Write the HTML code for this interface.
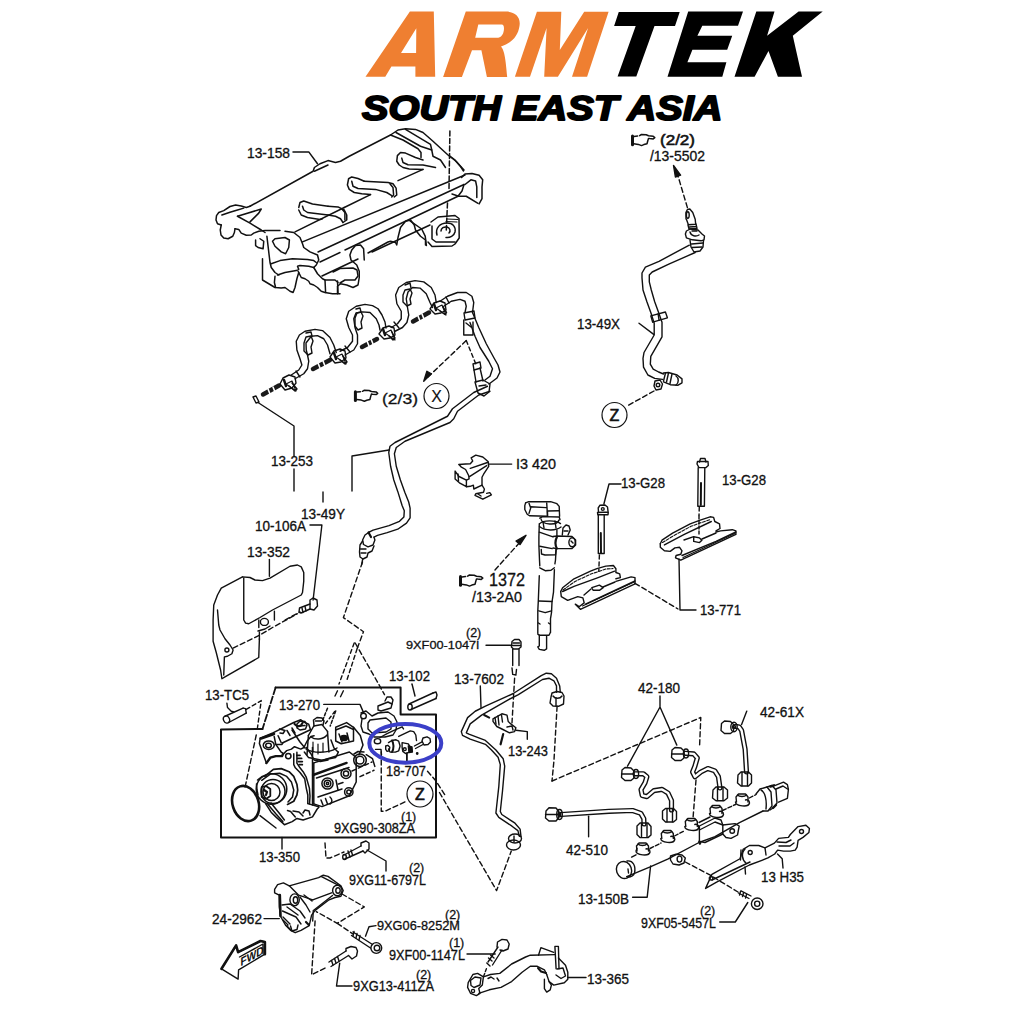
<!DOCTYPE html>
<html><head><meta charset="utf-8"><style>
html,body{margin:0;padding:0;background:#fff;}
svg{display:block;}
text{font-family:"Liberation Sans",sans-serif;}
</style></head><body>
<svg width="1024" height="1024" viewBox="0 0 1024 1024">
<rect width="1024" height="1024" fill="#fff"/>
<g id="logo">
<g fill="#EF7F31">
<path d="M365.5,76.8 L409.9,11.6 L433.8,11.6 L435.2,76.8 L415.4,76.8 L415.4,66.5 L391.4,66.5 L385.3,76.8 Z M401,52.9 L416.1,52.9 L416.3,28.2 Z" fill-rule="evenodd"/>
<path d="M443.1,76.9 L465.8,11.6 L505.6,11.6 C515,11.6 521,17 519.5,26 C518,36 512,43 501,46.5 C504,50 505.5,56 507.2,76.9 L486.9,76.9 L481.4,50.3 L472,50.3 L461.9,76.9 Z M478.3,24.5 L501.7,24.5 C504,24.5 504.5,28 503.5,32 C502.5,36 500,37.8 497,37.8 L475.2,37.8 Z" fill-rule="evenodd"/>
<path d="M514.9,76.8 L536.9,11.8 L561.3,11.8 L559.8,49.9 L584.2,11.8 L608.6,11.8 L587.1,76.8 L572,76.8 L588.1,27.9 L557.9,76.8 L544.2,76.8 L546.6,27.9 L530,76.8 Z"/>
</g>
<g fill="#000">
<path d="M618.75,12 L679.7,12 L675,26.1 L654.5,26.1 L636.3,76.5 L617.6,76.5 L635.7,26.1 L614.1,26.1 Z"/>
<path d="M688.2,11.6 L743,11.6 L738,25.75 L702.3,25.75 L697.4,35.7 L732.2,35.7 L727.2,49.8 L692.4,49.8 L687.4,62.3 L726.4,62.3 L722.3,76.7 L667.5,76.7 Z"/>
<path d="M756.3,11.6 L774.5,11.6 L767.1,35.7 L798.6,11.6 L822.7,11.6 L792.8,35.7 L802,76.7 L777.9,76.7 L768.5,51 L754.6,76.7 L734.5,76.7 Z"/>
</g>
<text x="362" y="119.5" font-family="Liberation Sans" font-weight="bold" font-style="italic" font-size="35.5" textLength="360.5" lengthAdjust="spacingAndGlyphs" fill="#000" stroke="#000" stroke-width="1.9" stroke-linejoin="round">SOUTH EAST ASIA</text>
</g>

<g id="labels" font-size="13.8" fill="#111" stroke="#111" stroke-width="0.3" lengthAdjust="spacingAndGlyphs">
<text x="247" y="157.6" lengthAdjust="spacingAndGlyphs" textLength="43">13-158</text>
<text x="660" y="145.1" font-size="15.5" stroke-width="0.6" lengthAdjust="spacingAndGlyphs" textLength="35">(2/2)</text>
<text x="650" y="160.6" lengthAdjust="spacingAndGlyphs" textLength="55">/13-5502</text>
<text x="577" y="328.6" lengthAdjust="spacingAndGlyphs" textLength="43">13-49X</text>
<text x="621" y="487.6" lengthAdjust="spacingAndGlyphs" textLength="44">13-G28</text>
<text x="722" y="484.6" lengthAdjust="spacingAndGlyphs" textLength="44">13-G28</text>
<text x="516" y="468.6" lengthAdjust="spacingAndGlyphs" textLength="40">I3 420</text>
<text x="489" y="585.6" font-size="18" lengthAdjust="spacingAndGlyphs" textLength="36">1372</text>
<text x="472" y="601.6" lengthAdjust="spacingAndGlyphs" textLength="50">/13-2A0</text>
<text x="466" y="636.6" font-size="12.5">(2)</text>
<text x="406" y="648.6" lengthAdjust="spacingAndGlyphs" textLength="73" font-size="11.8">9XF00-1047l</text>
<text x="389" y="680.6" lengthAdjust="spacingAndGlyphs" textLength="41">13-102</text>
<text x="454" y="683.6" lengthAdjust="spacingAndGlyphs" textLength="50">13-7602</text>
<text x="700" y="614.6" lengthAdjust="spacingAndGlyphs" textLength="41">13-771</text>
<text x="638" y="692.6" lengthAdjust="spacingAndGlyphs" textLength="42">42-180</text>
<text x="760" y="716.6" lengthAdjust="spacingAndGlyphs" textLength="44">42-61X</text>
<text x="382" y="403.6" font-size="15" lengthAdjust="spacingAndGlyphs" textLength="36">(2/3)</text>
<text x="271" y="465.6" lengthAdjust="spacingAndGlyphs" textLength="42">13-253</text>
<text x="301" y="518.6" lengthAdjust="spacingAndGlyphs" textLength="44">13-49Y</text>
<text x="255" y="530.6" lengthAdjust="spacingAndGlyphs" textLength="51">10-106A</text>
<text x="247" y="556.6" lengthAdjust="spacingAndGlyphs" textLength="43">13-352</text>
<text x="205" y="699.6" lengthAdjust="spacingAndGlyphs" textLength="44">13-TC5</text>
<text x="279" y="709.6" lengthAdjust="spacingAndGlyphs" textLength="41">13-270</text>
<text x="386" y="775.6" lengthAdjust="spacingAndGlyphs" textLength="40">18-707</text>
<text x="401" y="820.6" font-size="12.5">(1)</text>
<text x="334" y="832.6" lengthAdjust="spacingAndGlyphs" textLength="81">9XG90-308ZA</text>
<text x="259" y="861.6" lengthAdjust="spacingAndGlyphs" textLength="41">13-350</text>
<text x="409" y="871.6" font-size="12.5">(2)</text>
<text x="349" y="884.6" lengthAdjust="spacingAndGlyphs" textLength="77">9XG11-6797L</text>
<text x="212" y="923.6" lengthAdjust="spacingAndGlyphs" textLength="50">24-2962</text>
<text x="445" y="918.6" font-size="12.5">(2)</text>
<text x="377" y="929.6" lengthAdjust="spacingAndGlyphs" textLength="83" font-size="12.3">9XG06-8252M</text>
<text x="449" y="946.6" font-size="12.5">(1)</text>
<text x="389" y="959.6" lengthAdjust="spacingAndGlyphs" textLength="76">9XF00-1147L</text>
<text x="416" y="978.6" font-size="12.5">(2)</text>
<text x="353" y="990.6" lengthAdjust="spacingAndGlyphs" textLength="81">9XG13-411ZA</text>
<text x="587" y="983.6" lengthAdjust="spacingAndGlyphs" textLength="42">13-365</text>
<text x="578" y="903.6" lengthAdjust="spacingAndGlyphs" textLength="51">13-150B</text>
<text x="700" y="914.6" font-size="12.5">(2)</text>
<text x="641" y="927.6" lengthAdjust="spacingAndGlyphs" textLength="75">9XF05-5457L</text>
<text x="761" y="881.6" lengthAdjust="spacingAndGlyphs" textLength="43">13 H35</text>
<text x="566" y="854.6" lengthAdjust="spacingAndGlyphs" textLength="42">42-510</text>
<text x="508" y="755.6" lengthAdjust="spacingAndGlyphs" textLength="40">13-243</text>
<g font-size="16" text-anchor="middle" stroke-width="0.6">
<text x="436.5" y="401.8" stroke-width="0.15">X</text>
<text x="614.5" y="420.5">Z</text>
<text x="420" y="799.5">Z</text>
</g>
<g fill="none" stroke="#111" stroke-width="1.2">
<circle cx="436.5" cy="396" r="12.5"/>
<circle cx="614.5" cy="415" r="12.5"/>
<circle cx="420" cy="794" r="13"/>
</g>
</g>

<defs>
<g id="hand" fill="none" stroke="#111" stroke-linejoin="round" stroke-linecap="round">
<path d="M1.5,1.6 L1.5,10.3" stroke-width="3"/>
<path d="M3,1.9 L6.6,1.5 M8.6,1.1 L10.5,0 L15.2,0.3 L17.5,1.3 L22.2,1.7 L23.8,3.1 L22.2,4.4 L18.7,4.1 L17.5,3.9 L16.8,6.2 L16,9.3 L12.85,10.1 L10.5,11.1 L7.4,9.9 L2.7,9.3" stroke-width="1.5"/>
</g>
</defs>
<use href="#hand" x="353.9" y="390.2"/>
<use href="#hand" x="631" y="134.5"/>
<use href="#hand" x="459" y="575"/>

<g id="valvecover" fill="none" stroke="#111" stroke-width="1.5" stroke-linejoin="round" stroke-linecap="round">
<!-- leader -->
<path d="M293,151.9 L308.75,151.9 L317.5,163.75"/>
<!-- top edge -->
<path d="M250,206.25 L313.1,171.25 L314.4,167.5 L320,163.75 L328,160.6 L335.5,162.5 L340.5,161.25 L349.25,156.25 L390.5,135 L398,130 L405.5,128.75 L415.5,129.4 L423,132.5 L433,141.25 L448,155 L456,161.25 L464,170"/>
<path d="M314.4,171.25 L328,165"/>
<!-- top right internal -->
<path d="M390.5,135 L403,140 L418,148.75 L421,152.5 L421,157.5"/>
<path d="M396,132.5 L420.5,146.25 L431.75,150 L433,156.25 L440.5,160 L445.5,167.5"/>
<path d="M405.5,129.4 L430.5,144.4 L431.75,150"/>
<!-- ear 2 -->
<path d="M423,160 L415.5,157.5 L405.5,153.1 L400.5,152.5 L397.4,155.6 L396.75,161.25 L399.25,165 L403,167.5 L409.25,169 L423,169.4"/>
<path d="M401.75,158.1 L403,162.5 L408,164.75 L423,165 L435.5,167.5"/>
<path d="M423,169.4 L398,180.6"/>
<!-- ear 1 -->
<path d="M364.25,181.25 L358,178.5 L351.75,176.9 L348.6,178.75 L347.4,185 L349.25,189.4 L354.25,192.5 L361.75,193.75 L370.5,194.6"/>
<path d="M364.25,181.25 L388,182.5 L393,183.75 L396.1,188.1 L396.75,195 L394.25,196.9"/>
<path d="M351.75,181.25 L353,186.25 L358,188.5 L375.5,189.4 L386.75,192.5 L391.75,195.6"/>
<path d="M389.9,183.75 L393,187.5 L393.6,195 L391.75,196.9"/>
<path d="M370.5,194.6 L344.25,207.5"/>
<!-- ear 0 -->
<path d="M328,206.25 L338,206.9 L344.25,210 L346.75,215 L346.75,220 L343,222.5"/>
<path d="M328,215 L335.5,216.25 L340.5,218.75 L343,222.5"/>
<path d="M341.75,208.75 L344.9,212.5 L344.9,220"/>
<path d="M298.75,207.5 L300,202.5 L303.75,201 L312.5,204 L328,206.25"/>
<path d="M302.5,206.25 L303.75,210 L307.5,212.5 L328,215"/>
<path d="M298.75,210 L301.25,215 L307.5,217.5 L320,219.4 L322.5,218.75"/>
<!-- ridge lines -->
<path d="M295,231.9 L344.25,207.5"/>
<path d="M302.5,241.9 L465,175"/>
<path d="M318,252 L464,184.5"/>
<path d="M320,262 L340,252.5 M345,250 L458,196.25"/>
<path d="M322,276 L358,259 M372,252 L430,225"/>
<!-- left end -->
<path d="M250,206.25 L246.25,207.5 L241.25,206 L235.6,205 L230,206.5 L223.75,210.6 L218.75,212.5 L216.5,215.6 L216,220 L217.5,223.75 L221.25,225"/>
<path d="M221.25,225 L220.25,230 L221,235 L223.75,238.1 L228.1,238.75 L232.75,236.25 L234.4,232.5 L235,228.75"/>
<path d="M235,228.75 L238.75,229.4 L241.25,233.1 L246.25,235.25 L251.25,235 L253.75,233.1 L258.75,231.25 L265,230.6 L280,230.6"/>
<path d="M237.5,216.25 L261.25,209 L258.75,213.1 L250,221.9"/>
<path d="M221.9,215 L230,212.25 L237.5,210 L243.75,208.1"/>
<path d="M237.5,216.25 L250,223.1 L261.25,230 L265,232.5"/>
<path d="M285,231.25 L293.75,232.5 L300,237.5 L302.5,243.75 L303.75,247.5 L310,251.9 L317.5,255 L318.75,260 L316.25,265 L313.75,267.5"/>
<!-- small box -->
<path d="M255.6,240 L255.6,245.6 L258.1,247.5 L263.1,248.75 L263.75,241.25 L260,238.75"/>
<!-- verticals -->
<path d="M266.9,236.25 L270,262.5 L271.25,267.5 L275,272.5 L278.75,275"/>
<path d="M262.5,258.75 L262.5,280 L268.75,283.75 L275,287.5"/>
<!-- triangle hole -->
<path d="M272.5,241.25 L275,238.75 L285,237.5 L289.4,240 L288.75,247.5 L285.6,253.75 L281.25,251.9 L275,246.25 Z"/>
<path d="M271.25,263.75 L280,260.6 L292.5,258.75 L307.5,259.4 L313.75,260.6 L316.25,262.5"/>
<path d="M277.5,275 L285,272.5 L296.25,270.6 L298.75,269.4 L297.5,266.25 L300,265.6 L308.75,266.25 L313.75,267.5"/>
<path d="M275,276.25 L274.4,282.5 L275.6,287.5 L281.25,288.1 L285,287.5 L290,291.25 L293.1,292.5 L295,287.5 L296.9,278.75 L298.75,272.5"/>
<path d="M298.1,271.25 L301.25,277.5 L305,278.75 L308.75,281.25 L310,283.75 L313.75,285 L317.5,287.5 L321.25,291.25 L325,292.5 L332.5,293.75 L340,293.75"/>
<path d="M313.75,267.5 L317.5,273.75 L322.5,278.75 L325,280 L325.6,292.5"/>
<path d="M325,280 L335,280 L338,282.5"/>
<!-- clip lower middle -->
<path d="M364.25,260 L363.6,248.75 L360.5,245 L355.5,245.6 L351.75,250 L349.9,255 L351,260 L356.75,265 L359.25,271.25 L359.25,277.5 L358,285 L353,287.5 L346.75,285 L340.5,283.75 L337.5,286.25 L337.5,293.75"/>
<path d="M333,272 L340,268.5 L353,268 L357,270 L358,276 L355,280 L345,280 L340,283"/>
<path d="M337.5,281 L338,293"/>
<!-- lobe middle -->
<path d="M368,253 L388,242 M388,242 L390.5,241.25 L395.5,242.5 L396.75,245 L398,237.5 L400.5,227.5 L405.5,221.25 L410.5,220 L414.25,225 L415.5,230 L420.5,236.25 L425.5,240 L425.5,245"/>
<!-- boss -->
<path d="M431,222 L438,217 L455,215.5 L459,218.5 L459.2,238 L455,244 L452,246 L432,246.5 L428,242"/>
<path d="M432,226 L432,239 L436,242 L455,242"/>
<path d="M437,235 C435,228 440,223 447,223 C453,223 456,227 455,232 C454,236 450,238 446,237.5"/>
<path d="M441,231 C441,228 444,226.5 447,227 C450,228 451,231 449,233"/>
<path d="M447,219 L458,219.5 M446,221.5 L457,222" stroke-width="1.2"/>
<path d="M410,220.9 L421.7,229 L425.2,236.1 L426.4,245.5"/>
<!-- dashed vertical -->
<path d="M449.9,131 L449,189" stroke-dasharray="5,2.5"/>
<path d="M447.5,203 L446.3,230" stroke-dasharray="5,2.5"/>
<!-- right end cap -->
<path d="M449.8,156 L454.5,159.5 L460.5,166.5 L463.5,171"/>
<path d="M461.6,177.5 L465,174 L472,173.4 L479.1,175.2 L482.7,179.8 L482,186.9 L482,198.6 L479.1,203.9"/>
<path d="M465,184.5 L470.9,179.8 L475.6,181 L476.8,186.9 L476.8,197.4"/>
<path d="M458,196.25 L466.25,196.25 L478,203.3"/>
<path d="M464,184.5 L462,191 L458,196.25"/>
<path d="M452,194 L458,196"/>
</g>

<g id="harness" fill="none" stroke="#111" stroke-width="1.4" stroke-linejoin="round" stroke-linecap="round">
<!-- plugs (dark nozzles) -->
<g stroke-width="4.5" stroke="#1a1a1a" stroke-linecap="round">
<path d="M263,394.5 L279,385.5"/>
<path d="M313,369 L330,360"/>
<path d="M362,347 L377,339"/>
<path d="M413,321.5 L429,312.5"/>
</g>
<g stroke="#fff" stroke-width="1.6">
<path d="M268,389 L270,394 M273,387 L275,392"/>
<path d="M318,363 L320,368 M323,361 L325,366"/>
<path d="M367,341 L369,346 M371,339 L373,344"/>
<path d="M418,316 L420,321 M422,314 L424,319"/>
</g>
<!-- connectors -->
<path d="M280,384 L283,378 L289,375 L295,377 L296,383 L292,388 L285,390 Z"/>
<path d="M289,386 L295,391 L297,389 L292,383"/>
<path d="M330,357 L334,351 L340,349 L345,351 L346,358 L341,362 L335,363 Z"/>
<path d="M340,360 L345,364 L347,362 L343,356"/>
<path d="M379,334 L383,328 L389,326 L394,328 L395,335 L390,338 L384,339 Z"/>
<path d="M389,336 L393,340 L395,338 L392,332"/>
<path d="M430,309 L434,303 L440,301 L445,303 L446,310 L441,313 L435,314 Z"/>
<path d="M440,311 L445,314.5 L446.5,312.5 L443,307"/>
<path d="M286,384 L296,391 L292,381 Z M336,357 L346,364 L342,354 Z M385,333 L395,340 L391,330 Z M436,308 L446,315 L442,305 Z" stroke-width="1.2"/>
<path d="M284,380 L286,386 M334,353 L336,359 M383,329 L385,335 M434,304 L436,310" stroke-width="2.4"/>
<!-- tube segments -->
<path d="M291.25,375 L298.75,370 L301.9,365 L300,358.75 L296.9,350 L296.25,341.25 L299.4,335 L305,331.25 L315,329.4 L322.5,330.6 L330,337.5 L333.75,345 L336.25,352.5"/>
<path d="M295,378.75 L303.75,373.75 L307.5,368.75 L308.75,361.25 L307.5,355 L306.25,350 L306,343 L311.25,336.25 L317.5,335.6 L323.75,338.75 L327.5,345 L330,353.75"/>
<path d="M340,351.25 L347.5,347.5 L352.5,341.25 L352.5,335 L348.75,327.5 L346.25,318.75 L348.75,311.25 L356.25,306.25 L365,304.4 L372.5,305.6 L378,308.75 L382,315 L385,322 L386,328"/>
<path d="M345,355 L353.75,350 L357.5,343.75 L357.5,335 L355,327.5 L353.75,318.75 L356,313 L362.5,311.9 L370,312.5 L376.25,318.75 L379,325 L380,330"/>
<path d="M391.25,327.5 L397.5,323.75 L401.25,318.75 L401.25,311.25 L396.9,303.75 L395.6,295 L398.75,287.5 L406.25,282.5 L415,280.6 L423.75,281.9 L431.25,287.5 L435,295 L436.25,302.5"/>
<path d="M395,331.25 L402.5,327.5 L406.9,322.5 L408.75,315 L407.5,307.5 L406.25,298.75 L408,292 L412.5,287.5 L420,288.1 L426.25,293.75 L430,302.5 L432.5,307.5"/>
<path d="M440,301.25 L447.5,296.25 L457.5,292.5 L466.25,292.5 L471.9,296.25 L473.75,302.5 L472.5,312.5"/>
<path d="M443.75,306.25 L451.25,301.25 L460,299.4 L465,301.25 L466.25,306.25 L465,312.5"/>
<!-- band marks on tubes -->
<path d="M296,371 L300,377 M345,346 L350,352 M394,322 L399,328 M446,297 L449,303"/>
<!-- clips on loops -->
<path d="M304,343 L306,337 L311,336 L313,341 L311,347 L312,353 L308,355 L304,351 Z"/>
<path d="M355,318 L357,313 L361,312 L363,316 L361,322 L362,328 L358,330 L355,326 Z"/>
<path d="M403,295 L405,290 L410,289 L412,293 L410,299 L411,304 L407,306 L403,302 Z"/>
<path d="M306,333 L311,332 L312,336 M356,309 L360,308 L361,312 M405,285 L410,283 L411,288"/>
<!-- clamp on vertical -->
<path d="M464,313 L474,311 L475,318 L465,320 Z"/>
<path d="M463.75,320 L463.75,335 L473,335 L473,322"/>
<path d="M466,323 L471,327"/>
<!-- tube down -->
<path d="M472.5,312.5 L478.75,327.5 L486.25,343.75 L493.75,357.5 L498,365 L500,372 L497,378 L489,384"/>
<path d="M470,322.5 L475,336.25 L480,347.5 L488.75,361.25 L492.5,368.75 L490,376.25 L485,380"/>
<!-- leader 13-253 -->
<path d="M253,397 L256,396 L259,402 L256,403 Z"/>
<path d="M258,402.5 L294,426 L294,456"/>
<path d="M294,469 L294,491"/>
</g>
<g id="pipe49y" fill="none" stroke="#111" stroke-width="1.4" stroke-linejoin="round" stroke-linecap="round">
<!-- dashed arrow to X -->
<path d="M466.25,340.6 L428,377" stroke-dasharray="5,3"/>
<path d="M423.75,381.25 L426.9,371.25 L431.25,373.75 Z" fill="#111"/>
<path d="M466.25,340.6 L476.25,365" stroke-dasharray="4,3"/>
<!-- fitting -->
<path d="M473,364 L480,362 L481,368 L474,370 Z"/>
<path d="M474,370 L476,382 M480,368 L483,381"/>
<path d="M475,382 L483,380 L490,384 L489,392 L484,396 L478,393 Z"/>
<path d="M479,386 L486,385"/>
<!-- main pipe -->
<path d="M487.5,386.25 L473.75,392.5 L452.5,408.75 L447.5,416.25 L440,420 L395,442.5 L390,446.25 L388.75,452.5 L390.6,466.25 L393.8,480 L397.75,491.4 L402.1,505.5 L404.3,510.8 L403.9,516.9 L399.5,521.3 L389,525.7 L373.1,530.1 L369.6,531.9"/>
<path d="M490,391.25 L478.75,395 L457.5,411.25 L453.75,418.75 L450,422.5 L405,441.25 L396.25,447.5 L394.4,453.75 L396.25,466.25 L400.4,480 L404.8,492.3 L408.7,502 L410.1,508.1 L410.1,517.8 L406.5,523.1 L397.75,529.2 L387.2,532.7 L377.5,535.4 L374,537.1"/>
<!-- end fitting -->
<path d="M369.6,531.9 L365,535 L362.6,540 L363.5,544.5 L368,546.8 L373,545 L374.9,540 L374,537.1"/>
<path d="M368.5,532.5 L371,537" stroke-width="2.2"/>
<path d="M362.6,541 L360,545 L359.5,552 L360,557 L363,559 L367,557 L368,553 L372,551 L374,546"/>
<path d="M360.5,549 L366,549 M361,553 L366,553"/>
<path d="M362.6,559.5 L361.7,564.4" />
<!-- dashed line down -->

<!-- leader 13-49Y -->
<path d="M323,492 L323,502"/>
<path d="M352,491 L352,456 L389,450"/>
</g>

<g id="pipe49x" fill="none" stroke="#111" stroke-width="1.4" stroke-linejoin="round" stroke-linecap="round">
<!-- dashed arrow up to label -->
<path d="M687.4,207.6 L678,176" stroke-dasharray="5,3"/>
<path d="M673.5,165.5 L675.4,177 L680.6,175.2 Z" fill="#111"/>
<!-- fitting -->
<path d="M686,219 L685.9,212.5 L687.4,209.5 L689.8,209 L692.75,212.5 L695.2,219.3 L695.7,224.2 L688.4,224.7 L686.4,219.3"/>
<ellipse cx="687.8" cy="215" rx="1.4" ry="3.2"/>
<path d="M688,225 L689,229 L697,228.5 L696,224 M689.5,227 L696.5,226.5"/>
<path d="M686.4,231 L690.3,229 L698,230 L702,234 L704.5,236 L704,239.8 L701,240.8 L692.3,239.8 L686.4,237.9 L685.4,234 Z"/>
<path d="M690,232 C691,236 696,237 699,235 M692,231 L697,231"/>
<path d="M690,240 L691,247 L694,252 L700,251 L703,247 L703.5,240.5"/>
<path d="M691.5,244 L703,243 M692,247.5 L702,247"/>
<!-- pipe -->
<path d="M689.3,245.2 L659,261.3 L645.4,267.1 L642,273 L642,277.9 L643,290 L646.9,301.7 L650.8,312.5 L654.2,323.2 L654.2,335 L644,352.5 L643,358.4 L643.5,367.1 L647.9,375 L654.7,378.4 L662.5,379.4"/>
<path d="M695.2,252.5 L668.8,264.2 L652.2,272 L649.3,275 L649.3,281.8 L651.3,290 L654.7,301.7 L658.6,312.5 L662,322.2 L662,336.9 L650.8,356.4 L650.3,364.2 L653.2,369.1 L658.6,372 L663.5,374"/>
<!-- clamp -->
<path d="M650.8,315.9 L665.4,312 L667.4,317.8 L652.7,322.2 Z"/>
<path d="M658.1,313.9 L659.1,320.3"/>
<!-- leader -->
<path d="M639,323.2 L653.7,334.4"/>
<!-- connector -->
<path d="M663.5,373 L668.4,372.5 L677.1,375 L682,378.9 L682,382.8 L678.1,385.2 L670.3,384.7 L663.5,381.8"/>
<path d="M665.5,373 L663.5,381 M668.5,373 L666.5,382 M672,374 L670,383.5"/>
<path d="M676,376 C679,378 679,383 676,385"/>
<!-- nut below -->
<path d="M655,381 L660,380 L662.5,384 L661,389 L656,390 L654,386 Z"/>
<circle cx="658" cy="385" r="1.8"/>
<!-- dashed to Z -->
<path d="M654,391 L627,406" stroke-dasharray="5,3"/>
</g>

<g id="injector" fill="none" stroke="#111" stroke-width="1.4" stroke-linejoin="round" stroke-linecap="round">
<!-- 13 420 bracket -->
<path d="M488.3,464.1 L511.7,464.1"/>
<path d="M459,464.5 L465.6,464 L470.3,463.7 L472.7,461 L471.1,457.8 L475.8,455.1 L482.8,457 L488.3,461.7 L488.7,466.4 L483.6,474.2 L482,477.3 L482,485.2"/>
<path d="M459,464.5 L461,466.8 L465.6,469.5 L468.75,475.8 L469.1,478.9 L466.4,480.1"/>
<path d="M455.1,471.1 L455.1,478.9 L459.4,482.8 L466.4,486.7 L466.4,480.1 L459,476.5 L455.1,471.1"/>
<path d="M458,474 L458.5,481"/>
<path d="M470.3,468.4 L487.5,462.5 M469.5,476.6 L486.7,465.6"/>
<path d="M466.4,486.7 L470.3,486.3 L473.4,485.2 L473.8,489 L482,485.2 L484.4,489 L483.6,492.2 L475.8,493.75 L475,495.3 L482.8,499.2 L491.4,494.9 L489.8,492.6 L486.7,493.4"/>
<path d="M478,494 L481,496"/>
<!-- injector connector -->
<path d="M525.6,502.9 L528.75,501.7 L550.6,501.7 L556.9,503.7 L559.2,506.4 L559.6,516.2"/>
<path d="M525.6,502.9 L524.8,505.6 L524.8,509.5 L527.2,514.2 L529.5,515.8 L547.5,516.2 L547.5,511 L559.2,510.7"/>
<path d="M529,503.3 L530.7,508 L529,513.4 M546.7,502.9 L547.5,515.8 M530.7,506.8 L546,507.6"/>
<!-- neck & collar -->
<path d="M539.7,518.1 L542.8,516.6 L559.2,517 L560,519.7"/>
<path d="M539.7,523.6 C543,520 556,520 560.5,523.6"/>
<path d="M541,519 C542,525 557,526 559,520"/>
<path d="M539.5,526.5 C545,531 556,531 561,527"/>
<path d="M543,522 L544,528 M555,521 L556,528"/>
<!-- body -->
<path d="M539.3,523.6 L538.9,536.9 L538.9,545.5 L539.5,560 L539.8,565.9"/>
<path d="M539.3,532.2 L553,536.9 M539.7,546.25 L552.2,548.6"/>
<path d="M556.9,530 L556.9,536"/>
<path d="M541.25,549.4 L541.5,554 L545,555 L555.5,554.8 L556.1,549.4"/>
<path d="M556.1,549.4 L555.5,560 L554.9,563.9"/>
<path d="M539.8,567.8 L545.2,570.7 L551,570.3 L554.4,567.8"/>
<path d="M539.3,575.6 L538.3,601 L537.8,610.8 L537.8,633.2"/>
<path d="M554.4,569.8 L553.5,592.2 L552,602 L551.5,612.7 L550.5,618.6 L550.5,632.3"/>
<path d="M538.8,601 L552,601.5 M538.8,610.8 L545.2,612.7 L551.5,610.8"/>
<path d="M537.8,634.2 L539.3,635.2 L549,635.2 L550.5,632.3"/>
<path d="M539.3,635.2 L539.3,646 L537.8,646.9 L539.3,649.4 L544.2,650.3 L546.6,648.9 L546.6,636.2"/>
<path d="M538.5,623 L540,624 M548.5,623 L550,624"/>
<!-- side connector -->
<path d="M553,536.5 L557,536 L572,536.5 L575.6,540 L575.6,545 L572,548.6 L557,548.6 L553,548"/>
<ellipse cx="572.1" cy="542.3" rx="3.2" ry="4.5"/>
<path d="M571,541 L573,543"/>
<path d="M556.9,537 C555,541 555,545 556.9,548.6" stroke-width="2.2"/>
<path d="M562.3,535 L563,528 L566,525 L569,526 L570.2,530 L568,535"/>
<path d="M564,531 L568,531"/>
<!-- dashed arrow -->
<path d="M495,570 L521,541" stroke-dasharray="5,3"/>
<path d="M526,535.3 L516,541 L520,544.5 Z" fill="#111"/>
<!-- bolt 13-G28 left -->
<path d="M621,484 L609,484 L603.9,504"/>
<path d="M598.5,512 L598.2,508 L600,505.2 L605,505 L607.5,507 L608,511 M597.5,512.5 L608.3,512 L608,514.7 L597.8,514.7 Z"/>
<circle cx="602.8" cy="509" r="1.4"/>
<path d="M598.3,514.7 L598.3,553.5 M604.2,514.7 L604.2,553.5 M598.3,553.5 L604.2,553.5"/>
<path d="M600.8,533 L601,553" stroke-width="2"/>
<path d="M599.4,555 L598.8,571.2" stroke-dasharray="4,3"/>
<!-- left clamp -->
<path d="M560.7,591.5 L562.6,587.7 L574,578.8 L590.5,571.2 L596.9,568.7 L605.8,566.1 L613.4,565.5 L615.9,568.7 L615.9,572.5 L619.7,573.8 L620.4,577.6 L615.9,578.8"/>
<path d="M562.6,591.5 L574,586.4 L598.1,577.6 L614.6,571.2"/>
<path d="M560.7,591.5 L561.3,596.6 L567.7,600.4 L577.8,596.6 L582.9,597.9 L584.2,602.9 L579.1,606.7 L575.3,604.2 L580.4,609.3 L635,583.9 L635,577.6 L631.1,576.9 L615.9,581.4"/>
<path d="M585.5,604.2 L635,581"/>
<path d="M591.8,587.7 L599.4,585.2 L603.2,587.7 L599.4,590.3 L593.1,590.3 Z"/>
<path d="M584,595 L591,589 M603,587 L615,582"/>
<path d="M635,583.3 L678,609" stroke-dasharray="5,3"/>
<!-- bolt 13-G28 right -->
<path d="M699.5,462 L700.5,458.5 L705,458.5 L706,462"/>
<path d="M697,464 L697.5,461.5 L708,461.5 L708.3,465.5 L706,467.6 L699,467.6 Z"/>
<path d="M698.2,467.6 L697.8,506.25 L704.4,506.25 L704.8,467.6"/>
<path d="M701,483 L700.8,505" stroke-width="2"/>
<path d="M699.3,507 L699,515.6" stroke-dasharray="4,3"/>
<!-- right clamp -->
<path d="M660.3,543.75 L662,540.2 L672.6,533.2 L690.2,523.8 L699.5,520.3 L710.1,516.8 L713.6,517.4 L714.8,521.5 L719.5,523.8 L720,528.5 L716,530.9"/>
<path d="M664.4,544.9 L684.3,534.4 L711.3,521.5"/>
<path d="M660.3,543.75 L660.3,547.3 L664.4,550.8 L670.2,551.4 L674.9,547.9 L679.6,547.3 L682,550.8 L680.8,554.3 L676.1,555.5 L675.5,557.8 L680.8,560.2 L735.9,534.4 L735.9,530.9 L732.3,529.7 L720.6,530.9 L716,532"/>
<path d="M682,555.5 L716,541.4 L735.9,532"/>
<path d="M693.7,536.7 L699.5,537.9 L701.9,540.2 L699.5,542.6 L693.7,541.4 Z"/>
<path d="M684,540 L693.7,536.7 M702,539 L716,533"/>
<path d="M699,516 L699,536" stroke-dasharray="3,2"/>
<path d="M563,590 L575,581.5 L591,574 L606,569 L613,568.5" stroke-width="1.1" stroke-dasharray="3,1.5"/>
<path d="M582.5,606 L634,582" stroke-width="1.1"/>
<path d="M662.5,542.5 L673.5,535.8 L691,526.3 L700,523 L710.5,519.5" stroke-width="1.1" stroke-dasharray="3,1.5"/>
<path d="M683,557.5 L735,533.5" stroke-width="1.1"/>
<!-- 13-771 leader -->
<path d="M679,559 L680,610 L696,610"/>
</g>

<g id="pipe7602" fill="none" stroke="#111" stroke-width="1.4" stroke-linejoin="round" stroke-linecap="round">
<!-- bolt 9XF00-1047l -->
<path d="M486,645.2 L511.5,645.2"/>
<path d="M512,641.5 L514.5,639.5 L519,639.5 L521,642 L521,647 L518.5,649 L513.5,649 L511.4,647 Z"/>
<path d="M513,643 L519.5,643 M512,645.5 L520.5,645.5"/>
<path d="M512.7,649 L512.7,665.5 M519,649 L519,665.5"/>
<path d="M512,668 L512.7,674.4 L515.9,675 L516.5,669.4"/>
<path d="M514.6,678.2 L512,722.7" stroke-dasharray="5,3"/>
<!-- pipe -->
<path d="M560.3,692.2 L559.7,685.9 L556.5,678.2 L551.4,673.8 L546.3,673.2 L541.25,675.7 L513.3,693.5 L485.4,706.2 L475.2,711.25 L467.6,717.6 L461.3,731.6 L462.5,735.4 L470.2,739.2 L485.4,744.3 L491.5,750 L498.1,757.3 L500.3,764.6 L498.8,786.6 L495.9,813 L498.8,817.4 L512,826.2 L517.9,830.6 L519.4,836.4"/>
<path d="M556.5,692.2 L556.5,685.9 L553.9,680.8 L548.9,678.2 L542.5,679.5 L518.4,694.7 L508.2,699.8 L481.6,715.1 L470.2,723.9 L466.3,732.8 L468.9,734.1 L485.4,740.4 L495.9,750 L503.2,758.8 L504.7,766.1 L502.5,791 L500.3,811.5 L501.8,814.5 L515,823.2 L520.1,829.1 L521,836.4"/>
<!-- top nut -->
<path d="M551,697 L552,693 L557,691.5 L562,692.5 L564,696 L563.5,704 L559,706.2 L553,706 L550,703 Z"/>
<path d="M553,696 C555,699 560,699 562,696"/>
<path d="M556,698 L556,706"/>
<path d="M557.1,706.2 L554,760 L552,781" stroke-dasharray="5,3"/>
<!-- bottom nut -->
<ellipse cx="515" cy="838.5" rx="6.5" ry="4.5"/>
<ellipse cx="513.5" cy="845" rx="7" ry="5"/>
<path d="M514,836 L514,842"/>
<!-- dashed V -->
<path d="M439.5,792.5 L496.6,890.6 L511.3,851.1" stroke-dasharray="5,3"/>
<!-- 13-7602 leader -->
<path d="M480.3,685.9 L481,707.4"/>
<!-- clip 13-243 -->
<path d="M493,718.9 L501.9,713.8 L507,715.1 L508.2,721.4 L510.8,723.9 L515.9,727.8 L514.6,731.6 L509.5,732.8 L501.9,729 L496.8,726.5 L493,721.4 Z"/>
<path d="M495,717.5 L496,724 M498,716 L499,725 M501.5,715 L502.5,722"/>
<path d="M507,727 L512,726 L513,730"/>
<path d="M515.9,730.3 L527.3,731.6 L527.3,739.2"/>
<path d="M484.1,715 L489.2,717.6" stroke-width="2"/>
<path d="M503.2,734.1 L500.6,744.3" stroke-width="2.2"/>
</g>

<g id="rail" fill="none" stroke="#111" stroke-width="1.4" stroke-linejoin="round" stroke-linecap="round">
<!-- 42-180 leader -->
<path d="M660,695.9 L660,707 M660,707 L627.5,766.2 M660,707 L676.8,745.1"/>
<!-- dashed box -->
<path d="M552,781 L700.8,717.5 L699.6,745.1" stroke-dasharray="5,3"/>
<path d="M696,780 L693.1,817.1" stroke-dasharray="5,3"/>
<!-- tubes: dark then white -->
<g stroke-width="5.2">
<path d="M635.2,773.8 L643.4,773.8 L646.9,776.7 L645.1,782.6 L641,789.6 L642.2,795.5 L646.9,796.6 L653.9,790.6 L662.1,789.4 L668,793.1 L671.5,800.5 L671.5,810"/>
<path d="M685.5,753.3 L693.75,753.9 L697.3,758 L694.9,766.2 L692.6,772 L694.9,776.7 L700.8,772 L707.8,768.5 L714.8,770.9 L718.4,776.7 L720,788"/>
<path d="M735.7,726.4 L739.2,727 L741.6,730.5 L745.1,749.2 L746.5,772"/>
<path d="M561.1,814.5 L609,811.3 L632.5,810.5 L640.8,813.4 L643.8,818.7 L644,824"/>
</g>
<g stroke-width="2.4" stroke="#fff">
<path d="M635.2,773.8 L643.4,773.8 L646.9,776.7 L645.1,782.6 L641,789.6 L642.2,795.5 L646.9,796.6 L653.9,790.6 L662.1,789.4 L668,793.1 L671.5,800.5 L671.5,810"/>
<path d="M685.5,753.3 L693.75,753.9 L697.3,758 L694.9,766.2 L692.6,772 L694.9,776.7 L700.8,772 L707.8,768.5 L714.8,770.9 L718.4,776.7 L720,788"/>
<path d="M735.7,726.4 L739.2,727 L741.6,730.5 L745.1,749.2 L746.5,772"/>
<path d="M561.1,814.5 L609,811.3 L632.5,810.5 L640.8,813.4 L643.8,818.7 L644,824"/>
</g>
<!-- nuts on pipe ends (top) -->
<path d="M622,770 L625,767.5 L631,768 L634,771 L634,778 L631,780.5 L625,780.5 L621.5,777.5 Z"/>
<path d="M621.5,774 L634,774"/>
<ellipse cx="636" cy="774" rx="2.6" ry="4.5"/>
<path d="M672,750 L675,747.5 L681,748 L684,751 L684,758 L681,760.5 L675,760.5 L671.5,757.5 Z"/>
<path d="M671.5,754 L684,754"/>
<ellipse cx="686" cy="753.5" rx="2.6" ry="4.5"/>
<path d="M721.5,723.5 L724.5,721 L730.5,721.5 L733.5,724.5 L733.5,731 L730.5,733.5 L724.5,733.5 L721,730.5 Z"/>
<ellipse cx="734" cy="727" rx="3.2" ry="4.8"/>
<circle cx="734" cy="727" r="1.6"/>
<path d="M546,811 L549,807.8 L556,808 L558.5,811 L558.5,818 L556,821 L549,821 L545.5,818 Z"/>
<path d="M545.5,814.5 L558.5,814.5"/>
<ellipse cx="559.5" cy="814.5" rx="2.8" ry="5"/>
<ellipse cx="559.5" cy="814.5" rx="1.2" ry="2.4"/>
<!-- nuts (lower, on rail ends of pipes) -->
<path d="M637,826 L640,823 L648,823 L651,826.5 L651,835 L648,837.6 L640,837.6 L637,834.5 Z"/>
<path d="M641.5,823.5 L641.5,837.3 M647,823.5 L647,837.3"/>
<path d="M662.5,811 L665.5,808.5 L673.5,808.5 L676.5,811.5 L676.5,819.5 L673.5,822 L665.5,822 L662.5,819 Z"/>
<path d="M667,808.8 L667,821.8 M672.5,808.8 L672.5,821.8"/>
<path d="M713,790 L716,787 L724,787 L727.5,790 L727.5,798 L724,800.8 L716,800.8 L712.5,798 Z"/>
<path d="M717.5,787.3 L717.5,800.5 M723,787.3 L723,800.5"/>
<path d="M738,775 L741,772 L748.5,772 L751.5,775 L751.5,783 L748.5,786 L741,786 L737.5,783 Z"/>
<path d="M742,772.3 L742,785.7 M747.5,772.3 L747.5,785.7"/>
<!-- 42-61X leader -->
<path d="M746.8,711.1 L741.6,724.6"/>
<!-- 42-510 leader -->
<path d="M588.6,816.3 L588.6,836.8"/>
<!-- rail body -->
<path d="M626.7,876.7 L650.2,866.9 L667.7,859.1 L699,842.5 L715,836.6 L739.5,822.7 L763,811"/>
<path d="M631.6,857.1 L636,854.8"/>
<path d="M650,848.5 L661,843 M674.5,836 L685,830.5 M722.5,810.5 L735.5,804.5 M749.3,798 L756.1,794.5" stroke-dasharray="4,2"/>
<path d="M699,822.5 L710,817"/>
<!-- left end cap -->
<ellipse cx="624" cy="870" rx="7.5" ry="8.6" transform="rotate(-20 624 870)"/>
<path d="M627,861 C633,860 636,866 634.5,873 C633.5,876 631,877 628,877"/>
<path d="M628,869 L628.5,873"/>
<!-- rail fittings -->
<g>
<path d="M637,851 L636.5,846 L639,843 L646,843 L648.5,846 L648.5,851"/>
<path d="M636,851 C636,855 649,857 650,852 C650,849 647,848.5 646,849 M636,851 L637,848.5"/>
<path d="M638,844 C640,846 645,846 647,844"/>
<path d="M661.8,838.5 L661.3,833.5 L663.8,830.5 L670.8,830.5 L673.3,833.5 L673.3,838.5"/>
<path d="M660.8,838.5 C660.8,842.5 673.8,844.5 674.8,839.5 C674.8,836.5 671.8,836 670.8,836.5"/>
<path d="M662.8,831.5 C664.8,833.5 669.8,833.5 671.8,831.5"/>
<path d="M685.8,826.5 L685.3,821.5 L687.8,818.5 L694.8,818.5 L697.3,821.5 L697.3,826.5"/>
<path d="M684.8,826.5 C684.8,830.5 697.8,832.5 698.8,827.5 C698.8,824.5 695.8,824 694.8,824.5"/>
<path d="M686.8,819.5 C688.8,821.5 693.8,821.5 695.8,819.5"/>
<path d="M710.5,813.5 L710,808.5 L712.5,805.5 L719.5,805.5 L722,808.5 L722,813.5"/>
<path d="M709.5,813.5 C709.5,817.5 722.5,819.5 723.5,814.5 C723.5,811.5 720.5,811 719.5,811.5"/>
<path d="M711.5,806.5 C713.5,808.5 718.5,808.5 720.5,806.5"/>
<path d="M736.5,802 L736,797 L738.5,794 L745.5,794 L748,797 L748,802"/>
<path d="M735.5,802 C735.5,806 748.5,808 749.5,803 C749.5,800 746.5,799.5 745.5,800"/>
<path d="M737.5,795 C739.5,797 744.5,797 746.5,795"/>
</g>
<!-- bracket box on rail -->
<path d="M699.4,826 L715,818 L721,820 L722.8,825 L722.8,834 L705,842.5 L699.4,841.6 Z"/>
<path d="M699.4,830 L715,822 L722.8,825"/>
<path d="M699.4,841.6 L700,843.5" stroke-width="2.5"/>
<path d="M722.8,825 L735,823.6 L739.2,826 L737.5,835 L731,838.4 L726,837.5 L722.8,834"/>
<circle cx="732.2" cy="831" r="2.3"/>
<!-- tab on rail bottom -->
<path d="M670.5,856 L676,854.2 L682,855 L685.3,858 L684,863 L679,865 L673,864 L670.5,860 Z"/>
<ellipse cx="679.5" cy="859.1" rx="2.4" ry="3"/>
<path d="M685.3,862 L710.3,875.2 L738,892" stroke-dasharray="5,3"/>
<!-- sensor end -->
<path d="M756,794 L760,789 L767,787 L771,792 L772,806 L768,811 L763,811"/>
<path d="M761,790 C765,792 767,800 766,809"/>
<path d="M767,787 L772,785.5 L776,790 L777,803 L773,808 L770,810"/>
<path d="M770.5,786.5 L774,785.3 M773,808 L776,805" stroke-width="2.4"/>
<path d="M774.7,785.6 L783.5,782.2 L787.4,784.6 L788.4,789.5 L787.4,798.3 L778.6,802.2"/>
<path d="M776,789 L783,786 L787.5,789"/>
<!-- 13-150B leader -->
<path d="M650.6,866 L647.2,897.2 L632.6,897.2"/>
<!-- 13 H35 bracket -->
<path d="M705.6,888.4 L711.9,874.4 L740,858.75 L743.1,849.4 L749.4,845.5 L758.75,845.5 L765,847.8 L774.4,843.1 L778.6,838.4 L788.4,837.4 L790.3,834.5 L798.1,826.6 L805.9,825.2 L809.4,828.6 L808.9,832.5 L803,837.4 L798.1,840.3 L797.1,847.1 L795.2,850.1 L790.3,851.1 L783.5,851.1 L777.6,850.1 L774.7,854 L767.9,857.9 L761.9,860.3 L749.4,865 L716.6,882.2 L705.6,888.4"/>
<circle cx="711.1" cy="878.3" r="1.8"/>
<circle cx="750.2" cy="852.5" r="2"/>
<circle cx="801.5" cy="831.5" r="2"/>
<path d="M741,850 L740.5,860 M745,849 C741,853 742,860 746,863"/>
<path d="M765,847.8 L766,855 M777,842 L786,842.5 L791,840 M779,846 L790,846 L794,843"/>
<path d="M745,867 L745.5,874 M712,880 L750,862" />
<path d="M777.5,854 L782.2,858.75 L783,868"/>
<!-- bolt 9XF05 -->
<path d="M738.4,893 L749,898.5 M741,890.8 L751,896"/>
<path d="M740.5,891.5 L739.5,895 M743.5,893 L742.5,896.5 M746.5,894.5 L745.5,898"/>
<circle cx="757.2" cy="903.75" r="5.8"/>
<circle cx="757.2" cy="903.75" r="2.6"/>
<path d="M719.7,922 L735.3,922 L747.8,902.5"/>
</g>

<g id="bottom" fill="none" stroke="#111" stroke-width="1.4" stroke-linejoin="round" stroke-linecap="round">
<!-- bracket 24-2962 -->
<path d="M264,918.6 L279.3,918.6"/>
<path d="M274.6,889.3 L277.6,884.6 L283.4,882.9 L289.3,885.8 L318.6,877.6 L323.3,875.2 L328,876.4 L340.9,885.8 L343.2,890.5 L340.9,896.3 L335,897.5 L329.1,899.8 L315.1,910.4 L311.6,915.1 L309.2,925.6 L301,930.3 L295.2,932.7 L290.5,930.3 L285.8,925.6 L280.5,916.25 L279.3,906.9 L279.3,895.2 L274.6,892.8 Z"/>
<path d="M289.3,885.8 L298.7,895.2 L312.7,899.8"/>
<ellipse cx="294.6" cy="899.8" rx="4.7" ry="5.9"/>
<ellipse cx="295.5" cy="900" rx="2.2" ry="3.2"/>
<ellipse cx="337.3" cy="890.5" rx="4.7" ry="5.3"/>
<ellipse cx="338" cy="890.5" rx="2.2" ry="2.8"/>
<path d="M321,876.4 L339.7,885.8 M312.7,899.8 L331.5,892.8 M314,910 L332.5,895.5"/>
<path d="M300,897 L306,905 L310,912 M304,895 L312,901"/>
<path d="M279.8,895 L280.5,916" stroke-width="2.6"/>
<path d="M282,905 L290,904 L300,911 L305,918 M282.5,911 L296,917 L301,924 M283,917 L290,924 M287,907 L298,915"/>
<path d="M290.5,926 L292,931 L297,929.5 L298,925"/>
<path d="M313.3,910.4 L312.7,921"/>
<path d="M287,926 L291,930 M283,920 L288,925"/>
<path d="M306,922 L309,925" stroke-width="2.2"/>
<path d="M342,894 L364.3,906.9 L337.3,923.3 L316.25,911.6" stroke-dasharray="5,3"/>
<path d="M337.3,923.3 L353,934" stroke-dasharray="5,3"/>
<path d="M315.1,920.9 L311.6,974.8 L325.6,967.8" stroke-dasharray="5,3"/>
<!-- bolt 9XG06 -->
<path d="M353,932 L372.5,944.5 M351.5,935.5 L370.5,948"/>
<path d="M354,931.5 L353,936 M357,933.5 L356,938 M360,935.5 L359,940"/>
<circle cx="376.3" cy="948" r="5.4"/>
<circle cx="377" cy="948" r="2.8"/>
<path d="M365.5,936.2 L369,926.8 L376,925.6"/>
<!-- bolt 9XG13 -->
<path d="M329,962 L346,951 M331,966.5 L348.5,955.5"/>
<path d="M331.5,960.5 L333,965 M334.5,958.5 L336,963 M337.5,956.5 L339,961"/>
<path d="M346,951 L346,948.5 L351,946.5 L356,947.5 L357.5,951 L356.5,956 L352,959 L348.5,955.5"/>
<path d="M339.7,963.1 L336.5,986 L352,986"/>
<!-- FWD arrow -->
<path d="M221.5,968.8 L236.1,945.4 L238.1,952.2 L260.5,941 L264.9,942 L264.9,954.2 L238.6,969.8 L238.1,979.1 Z"/>
<path d="M221.5,968.8 L236.1,945.4 L238.1,952.2 L260.5,941 L264.9,942 L264.9,954.2" stroke-width="2.6"/>
<path d="M239.5,957 L263,944 L263,953.5"/>
<text x="0" y="0" font-size="12" font-weight="bold" textLength="23" lengthAdjust="spacingAndGlyphs" transform="translate(240.5,966.5) skewY(-29)" fill="#111" stroke="none">FWD</text>
<!-- 9XF00-1147L bolt -->
<path d="M467,954 L495.2,954"/>
<path d="M488,962 L498,947 M492.5,965 L502,950"/>
<path d="M488.5,958 L492,961 M490.5,955 L494,958 M486.8,963 L490,966"/>
<path d="M497,947 L497.5,942 L502,939.4 L507,940 L509.2,944 L508,949 L503,951 L500,950"/>
<path d="M486.4,968.7 L483.4,976.9" stroke-dasharray="3,2"/>
<!-- 13-365 -->
<path d="M468.2,982.7 L472.9,974.5 L477.6,973.4 L483.4,976.9 L482.3,985.1 L478.75,988.6 L480,993.3 L476.4,995.6 L470.5,993.3 L467.6,987.4 Z"/>
<path d="M470.5,980.5 L475,977 L481,978 L480,985 L474,987.5 L471,985.5 Z"/>
<circle cx="473" cy="991" r="1.6"/>
<path d="M483.4,976.9 L490.5,974.5 L499.8,973.4 L511.6,964 L525.6,957 L530.3,955.2 L554.9,954.6"/>
<path d="M478.75,993.3 L489.3,989.8 L501,987.4 L511.6,981.6 L522.1,972.2 L530.3,966.3 L537.3,966.3 L544.4,969.8 L546.7,974.5"/>
<path d="M488,978.5 L491,977 L494,979 M497,978 L499,981"/>
<path d="M538.5,955.2 L540.9,947.6 L553.75,952.3"/>
<path d="M554.9,946.4 L556.1,968.7 M558.4,946.4 L559,968.7 M554.9,946.4 L558.4,946.4"/>
<path d="M558.4,958.1 L565.5,965.2 L567.8,972.2 L567.8,979.2 L564.3,982.7 L553.75,985.1 L549.1,981.6 L546.7,974.5"/>
<path d="M544.4,979.2 L544.4,988.6 L546.7,992.1 L550.2,989.8 L551.4,985.1 L549.1,981.6"/>
<path d="M557,969 L563,968 L565.5,976 L561,978.5 L556,975"/>
<path d="M538,968 L541,971.5 L546,973" stroke-width="2"/>
<path d="M567.8,977.5 L586,977.5"/>
</g>

<g id="pumpbox" fill="none" stroke="#111" stroke-width="1.4" stroke-linejoin="round" stroke-linecap="round">
<!-- box -->
<path d="M262.5,729 L221,729.4 L221,837.5 L436,837.5 L436,714.6 L400.6,714.6 L400.6,687.5 L275.6,687.5" stroke-width="2"/>
<path d="M275.6,687.5 L262.5,729" stroke-width="1.8" stroke-dasharray="7,2.5"/>
<!-- heat shield 13-352 -->
<path d="M242.5,576.9 L250,577.5 L255,580 L262.5,580.6 L270,578.1 L290,566.25 L297.5,565 L301.25,566.9 L303.75,572.5 L303.75,581.25 L302.5,592.5 L301.25,595 L272.5,610 L260,617.5 L248.75,623.75 L245.6,623.1 L243.75,620 L243.75,577.5"/>
<path d="M242.5,576.9 L221.25,588.1 L217.5,595 L213.75,605 L213.1,620 L213.1,641.25 L216.25,652.5 L220.6,670 L221.9,678.75 L225,676.9 L258.75,657.5 L259.4,638.75"/>
<path d="M217.5,610 L218.75,625 L220,630 L225,638.75 L230,645 L233.1,650 L231.9,653.75 L227.5,656.25 L224.4,656.9 L223.75,675"/>
<circle cx="226.9" cy="650" r="2"/>
<ellipse cx="264.4" cy="621.9" rx="4" ry="3.5"/>
<path d="M258.8,620 L258.8,627.5 M274.4,611.25 L274.4,620 M259.4,639.4 L259.4,632"/>
<path d="M258,631 L265,629 L270,626"/>
<path d="M233.1,648.1 L260,635 L272.5,627.5 L297.5,613.75" stroke-dasharray="5,3"/>
<!-- 10-106A leader & bolt -->
<path d="M310,525 L321.9,525 L313.1,600"/>
<path d="M310,600 L313,598 L317,600 L317.5,606 L314,610 L310,609 Z"/>
<path d="M310,604 L299.5,608 L299,612 L301,613 L310,609"/>
<path d="M302,608 L303,612.5 M305,606.5 L306,611"/>
<!-- 13-352 leader -->
<path d="M269.4,559.4 L269.4,576.25"/>
<!-- 13-TC5 -->
<path d="M226.9,703.1 L227.5,707.5 L231.25,711.25 L233.75,711.9"/>
<path d="M225,716.25 L243.1,708.1 M228.75,722.5 L246.25,713.1"/>
<ellipse cx="226.5" cy="719.5" rx="3" ry="3.6" transform="rotate(-25 226.5 719.5)"/>
<path d="M243.1,708.1 L245.5,708.6 L246.25,713.1"/>
<path d="M246.25,709.4 L261.25,700.6 L257.5,727.5" stroke-dasharray="4,3"/>
<!-- dashed lines from heat shield down -->

<path d="M256.25,735 L245,787.5" stroke-dasharray="5,3"/>
<path d="M285,620 L300,612" stroke-dasharray="5,3"/>
<!-- dashed from fuel pipe fitting down through box -->
<path d="M362.5,562 L343.4,617.6 L363.5,631.7 L357.1,648.8" stroke-dasharray="5,3"/>
<path d="M354.2,643 L339,684 M357.1,648.8 L346.9,680" stroke-dasharray="4,3"/>
<path d="M355.2,643 L378.6,684 L384.5,694.7" stroke-dasharray="5,3"/>
<path d="M335,696 L337.5,690.8 M340.5,696.7 L343.4,690.8" />
<!-- O-ring -->
<ellipse cx="245.6" cy="803.5" rx="13" ry="18" transform="rotate(-18 245.6 803.5)" stroke-width="2.6"/>
<path d="M260,815.6 L276,828"/>
<!-- 13-350 leader -->
<path d="M282,837.5 L282,849"/>
<!-- pump head block -->
<g stroke-width="1.5">
<path d="M260.2,738.1 L259.4,743.6 L262.5,752.2 L266.4,763.1"/>
<path d="M260.2,738.1 L273.4,732.7 L293.75,722.5 L300.8,719.8 L303.1,721.7 L308.6,724.1 L310.2,728.75"/>
<path d="M261,738.5 L274,734" stroke-width="2.6"/>
<path d="M282.8,742.8 L310.9,729.5"/>
<path d="M274.2,736.6 L275.8,744.4 L281.25,752.2 L283.6,753.75"/>
<path d="M275.8,744.4 L282,744.4 L282.8,742.8"/>
<path d="M278.1,735.8 L281.25,742.8"/>
<ellipse cx="268.75" cy="745.2" rx="5.5" ry="4.3"/>
<ellipse cx="268.5" cy="745.5" rx="2.8" ry="2.2"/>
<path d="M266.4,763.1 L270.3,757.7 L275.8,756.1 L282,756.1 L282.8,754.5" stroke-width="2.4"/>
<path d="M279.5,729 L285,730.5 L283,733.5 L280,733"/>
<path d="M294.5,724 L297.5,726.5 L300.8,725.6 L302.5,723" stroke-width="2.2"/>
<path d="M292,728 L295,733 M287,730.5 L290,735.5"/>
<!-- flange -->
<path d="M283.6,753.75 L286.7,750.6 L291.4,749.1 L294.5,746.7 L300.8,749.1 L303.9,747.5 L307,741.25 L310.9,736.6 L314.1,735.8"/>
<circle cx="288.3" cy="756.1" r="2.7"/>
<path d="M293.75,753.75 L293.75,764.7 L295.3,767.8 L300,772.5 L304.7,778.75 L306.25,788.1 L307.8,795 L307.8,803.6"/>
<path d="M296.9,752.2 L296.9,763.1 L300,767.8 L303.1,771.7 L306.25,777.2 L309.4,788.1 L310,796 L309.5,804"/>
<path d="M296.9,755.3 L300,755.3 M297.7,758.4 L301.6,758.4 M298.4,761.6 L302.3,761.6 M299.2,764.7 L302.3,764.7" stroke-width="1.8"/>
<path d="M312.5,747.5 L312.5,805"/>
<path d="M306.25,747.5 L310.9,753.75 L314.1,760 L320.3,761.6 L328.1,760"/>
<!-- hub -->
<path d="M265.6,775.6 L273.4,769.4 L281.25,768.6 L289.1,771.7 L293.75,776.4 L296.9,784.2 L297.7,790 L296.9,795 L293.75,801.25 L287.5,804.4" stroke-width="1.7"/>
<path d="M261.7,780.3 L270.3,774.1 L279.7,773.3 L286.7,776.4 L291.4,781.9 L293.75,790 L292.5,797 L288,802"/>
<circle cx="271.5" cy="789" r="15.3"/>
<circle cx="273" cy="791.5" r="12"/>
<circle cx="271.5" cy="792" r="8.5"/>
<path d="M261.7,787.2 L266,786 L270.3,789 L270.3,796 L266,798.9 L261.7,797 Z" stroke-width="1.8"/>
<path d="M264,790 L267,792 L266,795" stroke-width="2.2"/>
<path d="M257.5,780 L262,776.5 L266,776 M256.5,784 L257,790 L258,795"/>
<!-- lower part -->
<path d="M265.6,803.6 L271.1,812.2 L275.8,816.9 L282.8,823.1 L284.4,824.7 L292.2,821.6 L296.9,818.4 L303.1,820 L312.5,816.9 L317.2,809 L318.75,807.5"/>
<path d="M271,803 L279.7,813.7 L284.4,820 M268,804.4 L275.8,813.7 L282.8,821.6"/>
<path d="M287.5,810.6 L290.6,811.4 L295.3,816.9 M293,811 L299,812 L303,816"/>
<path d="M307.8,803.6 L318.75,806.7"/>
<path d="M303,813 L305,810 L309,811 L310,815" />
<!-- center-right body -->
<path d="M313.1,775 L346.6,762.9" stroke-width="2.4"/>
<path d="M316.5,778 L349,767.5"/>
<path d="M313.8,762.9 L349.4,752 L356.2,757.4 L356.2,782 L349.4,795.7 L322,806.6 L313.8,803.9"/>
<path d="M313.8,762.9 L313.8,803.9"/>
<circle cx="327.5" cy="783.5" r="5.6"/>
<circle cx="327.5" cy="783.5" r="3.3"/>
<circle cx="327.5" cy="783.5" r="1.2"/>
<circle cx="346" cy="773.5" r="5"/>
<circle cx="346" cy="773.5" r="2.6"/>
<circle cx="348.8" cy="792" r="4.2"/>
<circle cx="348.8" cy="792" r="2"/>
<path d="M321,800 L323,805 M325.5,798.5 L327.5,804 M330,797 C332.5,799 332.5,802.5 330,804"/>
<path d="M318,797 L336,791 L342,789"/>
<path d="M336,780 L338,790 M338.5,784 L343,782.5"/>
<!-- central tall cylinder -->
<path d="M308.4,735.5 L313.8,726 L322,724.6 L327.5,731.4"/>
<path d="M308.4,735.5 L307,754.7 M327.5,731.4 L328.9,752"/>
<path d="M311,737 C315,740 323,740 327,735"/>
<path d="M313,742 L313,752 M318,744 L318,754 M323,743 L323,752" stroke-width="1.2"/>
<path d="M304.3,752 L308.4,757.4 L322,760.2 L335.7,757.4 L338.4,752"/>
<path d="M306,749 C312,753 328,754 337,748"/>
<path d="M314,726 L313.5,720 L317,717.5 L322,718 L324,721 L323,725"/>
<path d="M315.5,721 L321.5,721"/>
<path d="M327.5,708.2 L322,722 M335.7,711 L330.2,726" stroke-dasharray="3,2"/>
<!-- block with blob -->
<path d="M335.7,727.3 L346.6,722.6 L353.5,727.3 L353.5,741 L341.2,743.75 L335.7,741 Z"/>
<path d="M335.7,730 L346,726 L353.5,729.5"/>
<ellipse cx="344" cy="738" rx="3.4" ry="2.6" fill="#111"/>
<path d="M339,734 L342,742 M347,733 L349,741"/>
<path d="M353.5,727.3 L360.3,735.5 L363,745 L359,754.7"/>
<path d="M331,740 L334,748 L338,752"/>
<!-- left small fittings near top -->
<path d="M297,724 L300,721 L305,721.5 L307,725 L305.5,729 L300,730 L297,728 Z"/>
<path d="M298.5,726 L305,725.5"/>
<path d="M292,730 L296,736 L300,742 L305,748"/>
<!-- right fitting -->
<circle cx="360" cy="760.2" r="6.25"/>
<circle cx="360" cy="760.2" r="3.9"/>
<path d="M354,754 L358,751.5 L364,752 M366.25,754.7 L372.5,758.6 L374.8,766.4"/>
<path d="M360,776.6 L374,770.3" stroke-dasharray="4,3"/>
<path d="M325.6,723.4 L335.8,710.2" stroke-dasharray="3,3"/>
</g>
<!-- gasket 13-270 -->
<path d="M323.75,704.4 L360,704.4 L363.75,713.1"/>
<circle cx="363.5" cy="716" r="2.8"/>
<path d="M361,713 L366,711 L372,716 L378,713 L388,712 L394,716 L397,722 L396,730 L393,735 L385,737 L374,737 L369,734 L363,732 L361,726 L362,719"/>
<path d="M370,720 L386,718 L391,722 L391,729 L386,732 L372,733 L368,729 L368,723 Z"/>
<!-- bolt near gasket -->
<path d="M378,706 L388,702 L392,704 L391,708 L381,711 L378,710 Z"/>
<path d="M385,701 L387,697 L391,697 L393,700 L392,704"/>
<!-- 13-102 pin -->
<path d="M412,684 L415,696"/>
<path d="M409,704 L433,693 M411,709.5 L436,698.5"/>
<ellipse cx="410" cy="707" rx="2.2" ry="3"/>
<path d="M433,693 L436,692 L437,695 L436,698.5"/>
<!-- 18-707 part -->
<path d="M380,737.5 L387.1,733.7 L393.9,730.3 L402.1,726.8 L403.5,728.9"/>
<ellipse cx="377.5" cy="741.2" rx="3.2" ry="2.6"/>
<path d="M398.7,736.4 L410.3,730.9 L413.7,731.6 L415.8,735 L416.5,740.5"/>
<path d="M388.5,742.6 L391.9,740.5 L396,739.8 L398.7,741.2 L400.1,746 L398.7,750.8 L395.3,752.1 L390,752 L388.5,749"/>
<path d="M391.9,740.5 C394,743 394,749 392,752" stroke-width="2"/>
<path d="M385.7,746 L387.8,745.3 L389.8,747.3 L389.1,750.8 L387.1,751.4 L385.7,749.4 Z"/>
<path d="M402.1,742.6 L408.3,743.9 L411,748.7 L409.6,752.1 L405.5,753.5 L402.8,751.4 L402.1,747.3 Z"/>
<path d="M408.3,746 L412,747 L412.4,752 L409,752.5 Z" fill="#111"/>
<circle cx="404.8" cy="749.2" r="1.4"/>
<path d="M406.9,753.5 L406.9,761.25" stroke-width="1.8"/>
<path d="M414.4,746 L422,741.9 M415.5,748.5 L423,744.5"/>
<path d="M422,741 L423,738 L427,736.8 L430,738.5 L430.5,742 L428,744.5 L424,745 Z"/>
<circle cx="417.2" cy="753.5" r="0.7" fill="#111"/>
<path d="M375.5,749.4 L381,749.4 L381.5,754.9"/>
<!-- dashed lines in box -->
<path d="M381.25,752 L381.25,811.25 L385,811.25 L406.25,801.25" stroke-dasharray="5,3"/>
<path d="M427.5,771.25 L436,781 L445,795" stroke-dasharray="5,3"/>
<path d="M352,771 L372,762" stroke-dasharray="4,3"/>
<!-- bolt 9XG11 -->
<path d="M344,855 L361,846 M345,859 L363,851"/>
<ellipse cx="344.5" cy="857" rx="1.8" ry="2.5"/>
<path d="M348,851 L350,857 M351,850 L352.5,855"/>
<path d="M361,846 L361,843 L366,841 L369,843 L369,849 L365,853 L363,851"/>
<path d="M367,850 L386,861 L386,871"/>
<path d="M325,843 L326,858 L330,858 L344,852" stroke-dasharray="5,3"/>
<!-- blue ellipse -->
<ellipse cx="405.3" cy="743.3" rx="36" ry="19.4" stroke="#3b3fc8" stroke-width="4"/>
</g>

</svg>
</body></html>
